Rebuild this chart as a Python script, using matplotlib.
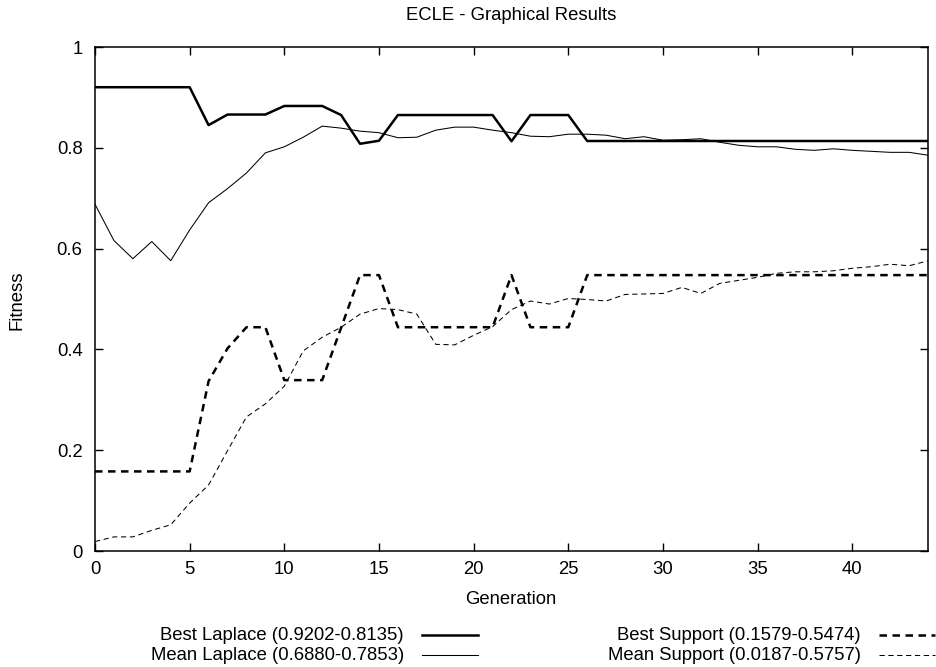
import numpy as np
import matplotlib.pyplot as plt
from matplotlib.lines import Line2D

plt.rcParams['font.family'] = ['Liberation Sans', 'DejaVu Sans']

generation = list(range(45))

bestLaplace = [0.9202, 0.9202, 0.9202, 0.9202, 0.9202, 0.9202, 0.845, 0.866, 0.866, 0.866,
               0.883, 0.883, 0.883, 0.865, 0.808, 0.814, 0.865, 0.865, 0.865, 0.865,
               0.865, 0.865, 0.813, 0.865, 0.865, 0.865, 0.8135, 0.8135, 0.8135, 0.8135,
               0.8135, 0.8135, 0.8135, 0.8135, 0.8135, 0.8135, 0.8135, 0.8135, 0.8135, 0.8135,
               0.8135, 0.8135, 0.8135, 0.8135, 0.8135]

meanLaplace = [0.688, 0.616, 0.580, 0.614, 0.576, 0.637, 0.691, 0.719, 0.750, 0.790,
               0.802, 0.821, 0.843, 0.839, 0.833, 0.830, 0.820, 0.821, 0.835, 0.841,
               0.841, 0.835, 0.830, 0.823, 0.822, 0.827, 0.827, 0.825, 0.818, 0.822,
               0.815, 0.816, 0.818, 0.811, 0.805, 0.802, 0.802, 0.797, 0.795, 0.798,
               0.795, 0.793, 0.791, 0.791, 0.7853]

bestSupport = [0.1579, 0.1579, 0.1579, 0.1579, 0.1579, 0.1579, 0.337, 0.402, 0.444, 0.444,
               0.339, 0.339, 0.339, 0.443, 0.5474, 0.5474, 0.444, 0.444, 0.444, 0.444,
               0.444, 0.444, 0.5474, 0.444, 0.444, 0.444, 0.5474, 0.5474, 0.5474, 0.5474,
               0.5474, 0.5474, 0.5474, 0.5474, 0.5474, 0.5474, 0.5474, 0.5474, 0.5474, 0.5474,
               0.5474, 0.5474, 0.5474, 0.5474, 0.5474]

meanSupport = [0.0187, 0.028, 0.028, 0.041, 0.052, 0.095, 0.131, 0.199, 0.266, 0.292,
               0.327, 0.397, 0.424, 0.444, 0.470, 0.481, 0.479, 0.470, 0.410, 0.409,
               0.428, 0.445, 0.479, 0.496, 0.490, 0.501, 0.499, 0.496, 0.509, 0.510,
               0.511, 0.523, 0.511, 0.531, 0.537, 0.543, 0.551, 0.554, 0.554, 0.556,
               0.561, 0.564, 0.569, 0.566, 0.5757]

labels = ['Best Laplace (0.9202-0.8135)', 'Mean Laplace (0.6880-0.7853)',
          'Best Support (0.1579-0.5474)', 'Mean Support (0.0187-0.5757)']

W, H = 936, 667
FS = 13.3
fig = plt.figure(figsize=(W / 100, H / 100), dpi=100)
ax = fig.add_axes([95 / W, 1 - 551 / H, (928 - 95) / W, (551 - 47) / H])

thick = dict(color='black', lw=1.8)
thin = dict(color='black', lw=0.75)
ax.plot(generation, bestLaplace, **thick)
ax.plot(generation, meanLaplace, **thin)
ax.plot(generation, bestSupport, dashes=(3, 2.2), **thick)
ax.plot(generation, meanSupport, dashes=(5, 3.5), **thin)

ax.set_xlim(0, 44)
ax.set_ylim(0, 1)
ax.set_xticks(range(0, 45, 5))
ax.set_yticks([0, 0.2, 0.4, 0.6, 0.8, 1])
ax.set_yticklabels(['0', '0.2', '0.4', '0.6', '0.8', '1'])
ax.tick_params(direction='in', length=5.8, width=1, top=True, right=True, labelsize=FS)
ax.tick_params(axis='x', pad=7)
ax.tick_params(axis='y', pad=9)
for s in ax.spines.values():
    s.set_linewidth(1.1)

fig.text(511 / W, 1 - 16 / H, 'ECLE - Graphical Results', ha='center', va='center', fontsize=FS)
fig.text(511 / W, 1 - 600 / H, 'Generation', ha='center', va='center', fontsize=FS)
fig.text(17 / W, 1 - 300 / H, 'Fitness', ha='center', va='center', rotation=90, fontsize=FS)

# gnuplot-like key: text right aligned, sample to the right
styles = [dict(lw=1.8), dict(lw=0.75), dict(lw=1.8, dashes=(3, 2.2)), dict(lw=0.75, dashes=(5, 3.5))]
slots = [(404, 635), (404, 655), (861, 635), (861, 655)]
for lab, st, (xr, yc) in zip(labels, styles, slots):
    fig.text(xr / W, 1 - yc / H, lab, ha='right', va='center', fontsize=FS)
    fig.add_artist(Line2D([(xr + 18) / W, (xr + 74) / W], [1 - yc / H, 1 - yc / H],
                          color='black', transform=fig.transFigure, **st))

fig.savefig('out.png', dpi=100)
